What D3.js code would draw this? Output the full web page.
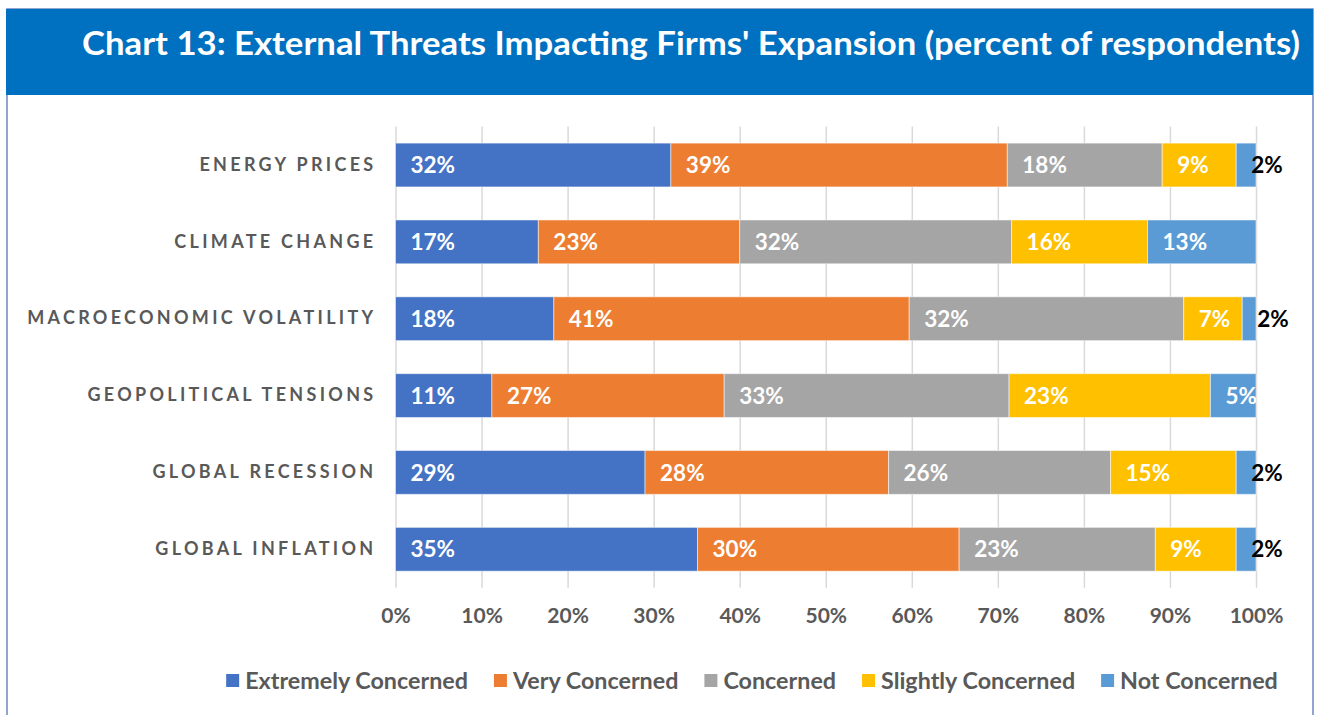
<!DOCTYPE html>
<html>
<head>
<meta charset="utf-8">
<script src="https://cdn.jsdelivr.net/npm/d3@7"></script>
<style>
  html, body { margin: 0; padding: 0; background: #fff; }
  svg { display: block; font-family: Lato, "Noto Sans", sans-serif; }
</style>
</head>
<body>
<svg id="chart"></svg>
<script>
// chart data (percent of respondents)
const categories = ["ENERGY PRICES", "CLIMATE CHANGE", "MACROECONOMIC VOLATILITY",
                    "GEOPOLITICAL TENSIONS", "GLOBAL RECESSION", "GLOBAL INFLATION"];
const seriesNames = ["Extremely Concerned", "Very Concerned", "Concerned",
                     "Slightly Concerned", "Not Concerned"];
const extremely    = [32.0, 16.6, 18.4, 11.2, 29.0, 35.1];
const very         = [39.1, 23.4, 41.3, 27.0, 28.3, 30.4];
const concerned    = [18.0, 31.6, 31.9, 33.1, 25.8, 22.8];
const slightly     = [8.6, 15.8, 6.8, 23.4, 14.6, 9.4];
const notConcerned = [2.3, 12.6, 1.6, 5.3, 2.3, 2.3];
const tickValues = [0, 10, 20, 30, 40, 50, 60, 70, 80, 90, 100];
const colors = ["#4472C4", "#ED7D31", "#A5A5A5", "#FFC000", "#5B9BD5"];
const title = "Chart 13: External Threats Impacting Firms' Expansion (percent of respondents)";

const width = 1319;
const height = 715;

const svg = d3.select('#chart')
    .attr('width', width).attr('height', height);

// frame + title banner
svg.append('rect')
    .attr('x', 7).attr('y', 9).attr('width', 1306).attr('height', 720)
    .attr('fill', '#fff').attr('stroke', '#6f86c2').attr('stroke-width', 1.5);
svg.append('rect')
    .attr('x', 6).attr('y', 9).attr('width', 1307).attr('height', 86)
    .attr('fill', '#0070C0');
svg.append('text')
    .attr('x', 82).attr('y', 55)
    .attr('fill', '#fff')
    .attr('font-size', 32).attr('font-weight', 700)
    .attr('textLength', 1218).attr('lengthAdjust', 'spacingAndGlyphs')
    .text(title);

// build rows for the stack
const rows = categories.map((c, i) => ({
    category: c,
    "Extremely Concerned": extremely[i],
    "Very Concerned": very[i],
    "Concerned": concerned[i],
    "Slightly Concerned": slightly[i],
    "Not Concerned": notConcerned[i]
}));
const stacked = d3.stack().keys(seriesNames)(rows);

const x = d3.scaleLinear().domain([0, 100]).range([395.5, 1256]);
const y = d3.scaleBand().domain(categories)
    .range([126.6, 587.7])
    .paddingInner(0.43).paddingOuter(0.215);
const color = d3.scaleOrdinal().domain(seriesNames).range(colors);

// gridlines
svg.append('g')
    .attr('transform', `translate(0,${y.range()[0]})`)
    .call(d3.axisBottom(x).tickValues(tickValues).tickSize(y.range()[1] - y.range()[0]).tickFormat(''))
    .call(g => g.select('.domain').remove())
    .call(g => g.selectAll('line').attr('stroke', '#d9d9d9').attr('stroke-width', 1.5));

// x axis labels
svg.append('g')
    .attr('transform', `translate(0,${y.range()[1]})`)
    .call(d3.axisBottom(x).tickValues(tickValues).tickSize(0).tickPadding(20).tickFormat(d => d + '%'))
    .call(g => g.select('.domain').remove())
    .call(g => g.selectAll('text')
        .attr('fill', '#595959').attr('font-size', 21).attr('font-weight', 700)
        .attr('font-family', 'Lato, sans-serif'));

// category labels (letter-spacing adds trail after last glyph, so shift right)
svg.append('g')
    .attr('transform', 'translate(376.5,0)')
    .call(d3.axisLeft(y).tickSize(0).tickPadding(0))
    .call(g => g.select('.domain').remove())
    .call(g => g.selectAll('text')
        .attr('fill', '#595959').attr('font-size', 18).attr('font-weight', 700)
        .attr('font-family', 'Lato, sans-serif')
        .style('letter-spacing', '3.3px'));

// bars
const layer = svg.append('g').selectAll('g')
    .data(stacked)
    .join('g')
    .attr('fill', d => color(d.key));

layer.selectAll('rect')
    .data(d => d)
    .join('rect')
    .attr('x', d => x(d[0]))
    .attr('y', d => y(d.data.category))
    .attr('width', d => x(d[1]) - x(d[0]))
    .attr('height', y.bandwidth())
    .attr('stroke', '#fff').attr('stroke-opacity', 0.5).attr('stroke-width', 1);

// value labels
layer.selectAll('text')
    .data(d => d)
    .join('text')
    .attr('x', d => x(d[0]) + 15)
    .attr('y', d => y(d.data.category) + y.bandwidth() / 2)
    .attr('dy', '0.36em')
    .attr('font-size', 22.5).attr('font-weight', 700)
    .attr('fill', d => (d[1] - d[0]) < 3 ? '#000' : '#fff')
    .text(d => Math.round(d[1] - d[0]) + '%');

// legend
const legend = svg.append('g').attr('transform', 'translate(0,681)');
let lx = 0;
const items = legend.selectAll('g')
    .data(seriesNames)
    .join('g');
items.append('rect')
    .attr('y', -7).attr('width', 13).attr('height', 13)
    .attr('fill', d => color(d));
items.append('text')
    .attr('x', 19).attr('dy', '0.36em')
    .attr('fill', '#595959').attr('font-size', 23.3).attr('font-weight', 700)
    .text(d => d);
items.each(function () {
    d3.select(this).attr('transform', `translate(${lx},0)`);
    lx += this.getBBox().width + 26;
});
const legendWidth = lx - 26;
legend.attr('transform', `translate(${752 - legendWidth / 2},681)`);
</script>
</body>
</html>
